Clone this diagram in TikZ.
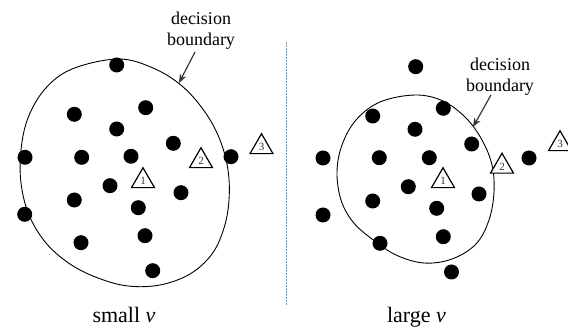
\documentclass[tikz,border=0pt]{standalone}
\usepackage{fontspec}
\setmainfont{Liberation Serif}
\usetikzlibrary{shapes.geometric,arrows.meta}
\definecolor{sepblue}{RGB}{91,155,213}
\definecolor{arrgray}{RGB}{55,55,55}
\tikzset{
  pt/.style={circle,fill=black,inner sep=0pt,minimum size=15pt},
  tri/.style={regular polygon,regular polygon sides=3,draw=black,line width=1.2pt,
    fill=white,inner sep=0pt,minimum size=26.5pt,font=\fontsize{11}{11}\selectfont,text=black!80},
  lbl/.style={align=center,inner sep=0pt,font=\fontsize{18}{21.5}\selectfont},
  captxt/.style={inner sep=0pt,anchor=base,font=\fontsize{22}{24}\selectfont},
  bound/.style={line width=0.9pt},
  arr/.style={draw=arrgray,line width=1.2pt,-{Stealth[length=9pt,width=7pt]}},
  sepline/.style={draw=sepblue,line width=0.8pt,dash pattern=on 2pt off 1pt}
}
\begin{document}
\begin{tikzpicture}[x=1pt,y=-1pt]
\useasboundingbox (0,0) rectangle (568,328);
% left boundary
\draw[bound] plot[smooth cycle,tension=0.6] coordinates{
 (118,59) (153,68) (182,86) (205,112) (220,140) (228,170) (229,200) (224,228)
 (212,254) (190,274) (160,285) (128,286) (98,278) (70,264) (46,243) (29,215)
 (21,183) (21,150) (28,118) (45,89) (72,69)};
% right boundary
\draw[bound] plot[smooth cycle,tension=0.6] coordinates{
 (415,95) (443,101) (466,118) (482,140) (492,165) (494,192) (489,220) (476,244)
 (452,259) (424,263) (396,255) (372,239) (353,222) (341,200) (337,172) (342,145)
 (356,120) (380,102)};
% separator
\coordinate (sepT) at (286,42);
\coordinate (sepB) at (286,305);
\draw[sepline] (sepT) -- (sepB);
% left dots
\node[pt] (l1) at (116.7,65) {};
\node[pt] (l2) at (74.3,114.3) {};
\node[pt] (l3) at (145.7,107.7) {};
\node[pt] (l4) at (116.7,129) {};
\node[pt] (l5) at (173.3,143.3) {};
\node[pt] (l6) at (25,157.3) {};
\node[pt] (l7) at (81.7,157.3) {};
\node[pt] (l8) at (131,156.3) {};
\node[pt] (l9) at (231,156.7) {};
\node[pt] (l10) at (110,185.7) {};
\node[pt] (l11) at (181,192.7) {};
\node[pt] (l12) at (74.3,200) {};
\node[pt] (l13) at (138.3,207.7) {};
\node[pt] (l14) at (24.7,214.3) {};
\node[pt] (l15) at (145,235.7) {};
\node[pt] (l16) at (81,242.7) {};
\node[pt] (l17) at (152.7,270.7) {};
% right dots
\node[pt] (r1) at (415.7,66.7) {};
\node[pt] (r2) at (372.7,116) {};
\node[pt] (r3) at (443.3,108.3) {};
\node[pt] (r4) at (415,129.3) {};
\node[pt] (r5) at (471.7,144) {};
\node[pt] (r6) at (323,158) {};
\node[pt] (r7) at (379.3,157.7) {};
\node[pt] (r8) at (429.3,157.7) {};
\node[pt] (r9) at (529,158) {};
\node[pt] (r10) at (408.3,186.7) {};
\node[pt] (r11) at (479,194) {};
\node[pt] (r12) at (372.7,201) {};
\node[pt] (r13) at (436.7,208.3) {};
\node[pt] (r14) at (323,215) {};
\node[pt] (r15) at (443.3,236.7) {};
\node[pt] (r16) at (380,243.3) {};
\node[pt] (r17) at (451.5,272) {};
% triangles
\node[tri] (lt1) at (143,181) {1};
\node[tri] (lt2) at (201,161) {2};
\node[tri] (lt3) at (261.5,147) {3};
\node[tri] (rt1) at (443,181) {1};
\node[tri] (rt2) at (502,166.5) {2};
\node[tri] (rt3) at (560,144) {3};
% labels
\node[lbl,anchor=north] (labL) at (201,11.5) {decision\\boundary};
\node[lbl,anchor=north] (labR) at (500,57.5) {decision\\boundary};
\coordinate (sL) at (195,52);
\coordinate (tL) at (179,83);
\coordinate (sR) at (491,95);
\coordinate (tR) at (473,127);
\draw[arr] (sL) -- (tL);
\draw[arr] (sR) -- (tR);
% captions
\node[captxt] (capL) at (124,323) {small \textit{v}};
\node[captxt] (capR) at (416.5,323) {large \textit{v}};
\end{tikzpicture}
\end{document}
